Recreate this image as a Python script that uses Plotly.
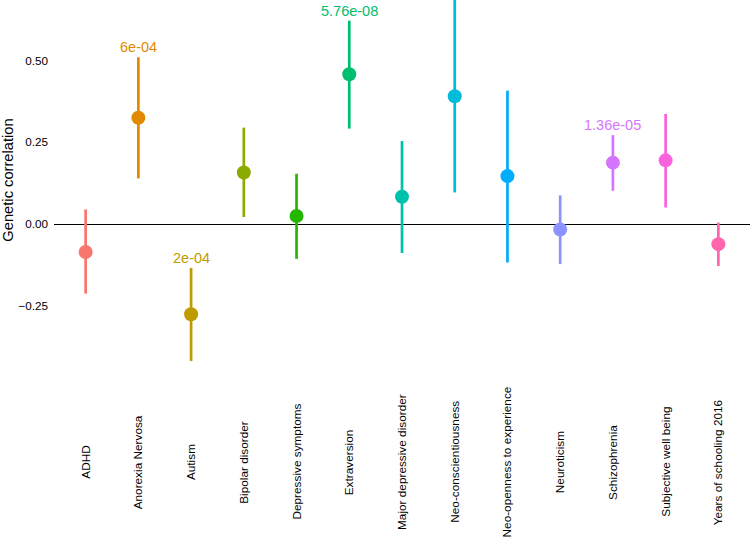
import plotly.graph_objects as go

categories = ["ADHD", "Anorexia Nervosa", "Autism", "Bipolar disorder",
              "Depressive symptoms", "Extraversion", "Major depressive disorder",
              "Neo-conscientiousness", "Neo-openness to experience", "Neuroticism",
              "Schizophrenia", "Subjective well being", "Years of schooling 2016"]
rg = [-0.085, 0.325, -0.275, 0.158, 0.025, 0.458, 0.084, 0.391, 0.147, -0.016, 0.188, 0.195, -0.061]
lower = [-0.212, 0.140, -0.418, 0.022, -0.106, 0.292, -0.088, 0.097, -0.117, -0.122, 0.102, 0.051, -0.128]
upper = [0.045, 0.510, -0.134, 0.295, 0.154, 0.622, 0.254, 0.685, 0.408, 0.088, 0.272, 0.337, 0.005]
pvals = ["", "6e-04", "2e-04", "", "", "5.76e-08", "", "", "", "", "1.36e-05", "", ""]
colors = ["#F8766D", "#E18A00", "#BE9C00", "#8CAB00", "#24B700", "#00BE70", "#00C1AB",
          "#00BBDA", "#00ACFC", "#8B93FF", "#D575FE", "#F962DD", "#FF65AC"]

FONT = "Liberation Sans, Arial, sans-serif"

fig = go.Figure()
for c, v, lo, up, col in zip(categories, rg, lower, upper, colors):
    fig.add_trace(go.Scatter(
        x=[c], y=[v], mode="markers",
        marker=dict(size=14, color=col, line=dict(width=0)),
        error_y=dict(type="data", symmetric=False, array=[up - v], arrayminus=[v - lo],
                     color=col, thickness=2.7, width=0),
        showlegend=False, cliponaxis=False,
    ))

annotations = []
for c, up, p, col in zip(categories, upper, pvals, colors):
    if p:
        annotations.append(dict(x=c, y=up, xref="x", yref="y", text=p, showarrow=False,
                                yshift=10, yanchor="middle", xanchor="center",
                                font=dict(family=FONT, size=14.5, color=col)))
for c in categories:
    annotations.append(dict(x=c, y=0, xref="x", yref="paper", text=c, showarrow=False,
                            textangle=-90, xanchor="center", yanchor="middle", yshift=-83,
                            font=dict(family=FONT, size=11.8, color="black")))
annotations.append(dict(x=0, xref="paper", xshift=-45.5, y=0.1346, yref="y",
                        text="Genetic correlation", showarrow=False, textangle=-90,
                        xanchor="center", yanchor="middle",
                        font=dict(family=FONT, size=14.7, color="black")))

fig.update_layout(
    width=750, height=540,
    margin=dict(l=54.4, r=0.4, t=0, b=161.3),
    paper_bgcolor="white", plot_bgcolor="white",
    font=dict(family=FONT, size=11.7, color="black"),
    annotations=annotations,
    xaxis=dict(type="category", categoryorder="array", categoryarray=categories,
               range=[-0.6, 12.6], showticklabels=False, showgrid=False,
               zeroline=False, showline=False, ticks=""),
    yaxis=dict(range=[-0.473, 0.685], tickvals=[-0.25, 0, 0.25, 0.5], tickformat=".2f",
               showgrid=False, zeroline=True, zerolinecolor="black", zerolinewidth=1.1,
               showline=False, ticks="", ticklabelstandoff=5,
               tickfont=dict(family=FONT, size=11.7, color="black")),
)

fig.write_html("out.html", config={"displayModeBar": False},
               post_script="document.body.style.margin='0';document.body.style.overflow='hidden';")
